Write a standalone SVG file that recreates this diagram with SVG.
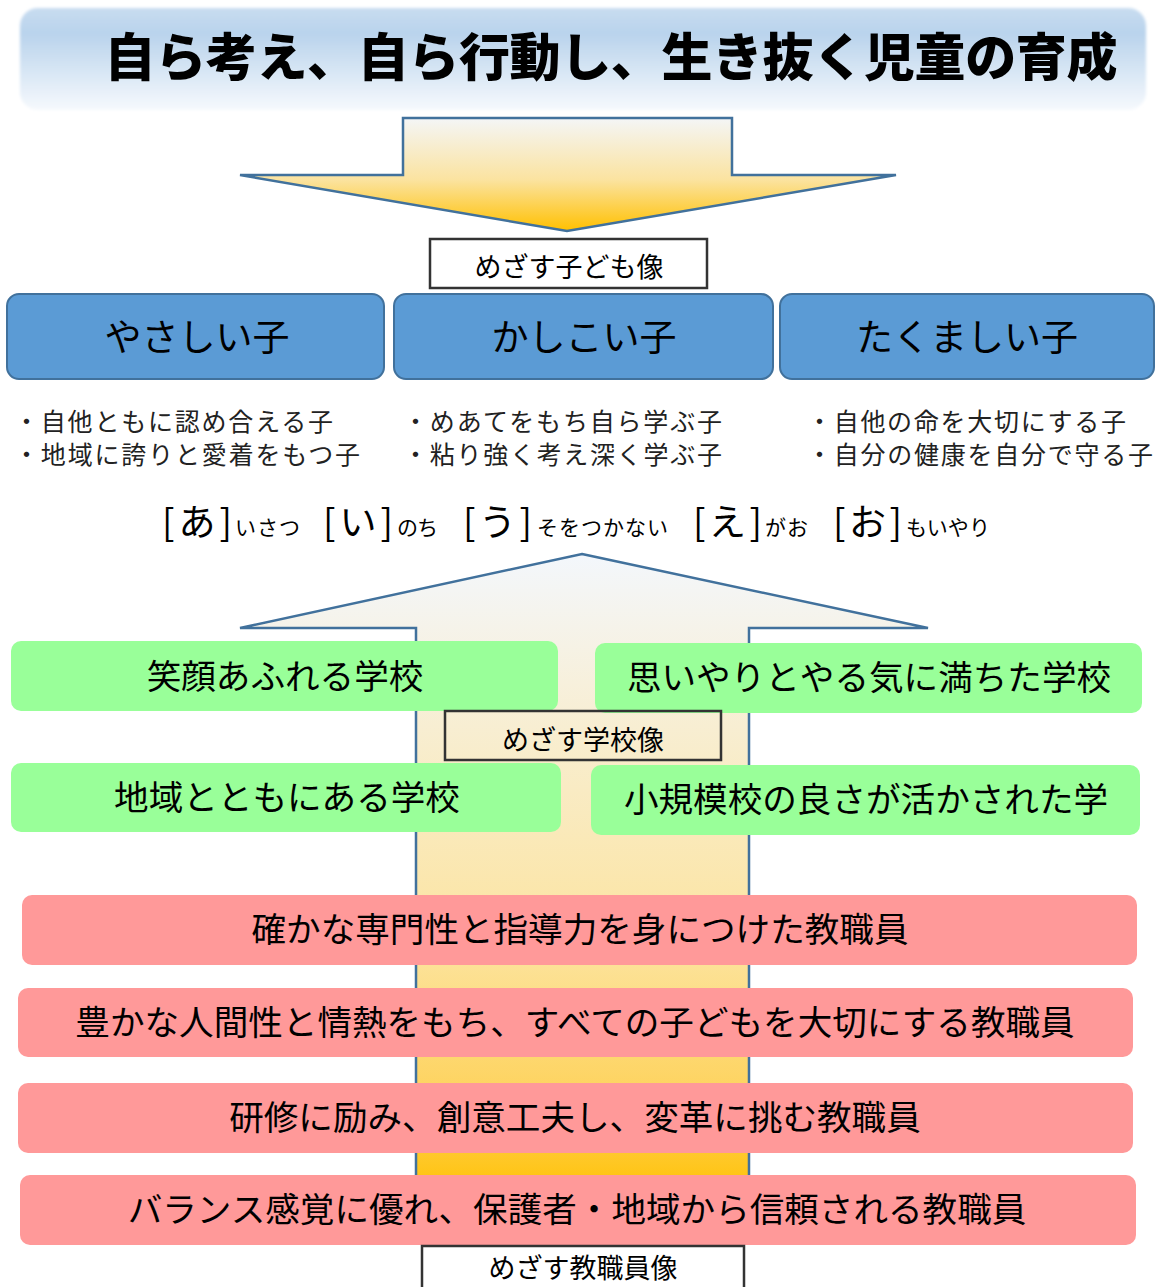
<svg xmlns="http://www.w3.org/2000/svg" width="1160" height="1287" viewBox="0 0 1160 1287">
<defs>
<linearGradient id="gTitle" x1="0" y1="0" x2="0" y2="1">
<stop offset="0" stop-color="#C8DCF0"/><stop offset="0.25" stop-color="#B9D3EC"/><stop offset="1" stop-color="#F6F9FD"/>
</linearGradient>
<linearGradient id="gDown" x1="0" y1="117" x2="0" y2="231" gradientUnits="userSpaceOnUse">
<stop offset="0" stop-color="#F4F6F8"/><stop offset="0.55" stop-color="#FBE3A0"/><stop offset="1" stop-color="#FFC000"/>
</linearGradient>
<linearGradient id="gUp" x1="0" y1="554" x2="0" y2="1200" gradientUnits="userSpaceOnUse">
<stop offset="0" stop-color="#F3F7FC"/><stop offset="0.2" stop-color="#F7F0DC"/><stop offset="0.6" stop-color="#FCE4A0"/><stop offset="0.85" stop-color="#FED25A"/><stop offset="1" stop-color="#FFC000"/>
</linearGradient>
<filter id="soft" x="-5%" y="-20%" width="110%" height="140%"><feGaussianBlur stdDeviation="1.5"/></filter>
</defs>
<style>
text{font-family:"Noto Sans CJK JP","Noto Sans",sans-serif;fill:#000}
.arrow{stroke:#41719C;stroke-width:2.5;stroke-linejoin:miter}
.label{fill:#fff;stroke:#333;stroke-width:2.5}
.blue{fill:#5B9BD5;stroke:#41719C;stroke-width:2}
.green{fill:#99FF99}
.pink{fill:#FF9999}
.t34{font-size:34.6px;text-anchor:middle}
.t37{font-size:37px;text-anchor:middle}
.t27{font-size:27px;text-anchor:middle}
.bul{font-size:25px;fill:#222}
.big{font-size:37px}
.sm{font-size:21px}
</style>
<rect width="1160" height="1287" fill="#fff"/>
<g id="title">
<rect x="20" y="8" width="1126" height="102" rx="18" fill="url(#gTitle)" filter="url(#soft)"/>
<text x="611" y="76" font-size="51" font-weight="900" text-anchor="middle" textLength="1013">自ら考え、自ら行動し、生き抜く児童の育成</text>
</g>
<g id="connectors">
<path class="arrow" fill="url(#gDown)" d="M403,118 L732,118 L732,175 L896,175 L567,231 L240,175 L403,175 Z"/>
<path class="arrow" fill="url(#gUp)" d="M582,554 L928,628 L749,628 L749,1200 L416,1200 L416,628 L240,628 Z"/>
</g>
<g id="child-label">
<rect class="label" x="430" y="239" width="277" height="49"/>
<text class="t27" x="569" y="277">めざす子ども像</text>
</g>
<g id="yasashii">
<rect class="blue" x="7" y="294" width="377" height="85" rx="12"/>
<text class="t37" x="197" y="351">やさしい子</text>
<text class="bul" x="14" y="431" textLength="319">・自他ともに認め合える子</text>
<text class="bul" x="14" y="464" textLength="346">・地域に誇りと愛着をもつ子</text>
</g>
<g id="kashikoi">
<rect class="blue" x="394" y="294" width="379" height="85" rx="12"/>
<text class="t37" x="584" y="351">かしこい子</text>
<text class="bul" x="403" y="431" textLength="319">・めあてをもち自ら学ぶ子</text>
<text class="bul" x="403" y="464" textLength="319">・粘り強く考え深く学ぶ子</text>
</g>
<g id="takumashii">
<rect class="blue" x="780" y="294" width="374" height="85" rx="12"/>
<text class="t37" x="967" y="351">たくましい子</text>
<text class="bul" x="807" y="431" textLength="319">・自他の命を大切にする子</text>
<text class="bul" x="807" y="464" textLength="346">・自分の健康を自分で守る子</text>
</g>
<g id="aiueo">
<text class="big" x="162" y="536" textLength="70">[あ]</text><text class="sm" x="235" y="535" textLength="65">いさつ</text>
<text class="big" x="323" y="536" textLength="70">[い]</text><text class="sm" x="397" y="535" textLength="41">のち</text>
<text class="big" x="463" y="536" textLength="69">[う]</text><text class="sm" x="537" y="535" textLength="131">そをつかない</text>
<text class="big" x="693" y="536" textLength="69">[え]</text><text class="sm" x="765" y="535" textLength="43">がお</text>
<text class="big" x="833" y="536" textLength="69">[お]</text><text class="sm" x="906" y="535" textLength="84">もいやり</text>
</g>
<g id="school1">
<rect class="green" x="11" y="641" width="547" height="70" rx="10"/>
<text class="t34" x="285" y="689">笑顔あふれる学校</text>
</g>
<g id="school2">
<rect class="green" x="595" y="643" width="547" height="70" rx="10"/>
<text class="t34" x="869" y="690">思いやりとやる気に満ちた学校</text>
</g>
<g id="school-label">
<rect x="445" y="711" width="276" height="49" fill="none" stroke="#333" stroke-width="2.5"/>
<text class="t27" x="583" y="750">めざす学校像</text>
</g>
<g id="school3">
<rect class="green" x="11" y="763" width="550" height="69" rx="10"/>
<text class="t34" x="287" y="810">地域とともにある学校</text>
</g>
<g id="school4">
<rect class="green" x="591" y="765" width="549" height="70" rx="10"/>
<text class="t34" x="866" y="812">小規模校の良さが活かされた学</text>
</g>
<g id="staff1">
<rect class="pink" x="22" y="895" width="1115" height="70" rx="10"/>
<text class="t34" x="580" y="942">確かな専門性と指導力を身につけた教職員</text>
</g>
<g id="staff2">
<rect class="pink" x="18" y="988" width="1115" height="69" rx="10"/>
<text class="t34" x="575" y="1035">豊かな人間性と情熱をもち、すべての子どもを大切にする教職員</text>
</g>
<g id="staff3">
<rect class="pink" x="18" y="1083" width="1115" height="70" rx="10"/>
<text class="t34" x="575" y="1130">研修に励み、創意工夫し、変革に挑む教職員</text>
</g>
<g id="staff4">
<rect class="pink" x="20" y="1175" width="1116" height="70" rx="10"/>
<text class="t34" x="577" y="1222">バランス感覚に優れ、保護者・地域から信頼される教職員</text>
</g>
<g id="staff-label">
<rect class="label" x="422" y="1246" width="322" height="50"/>
<text class="t27" x="583" y="1278">めざす教職員像</text>
</g>
</svg>
